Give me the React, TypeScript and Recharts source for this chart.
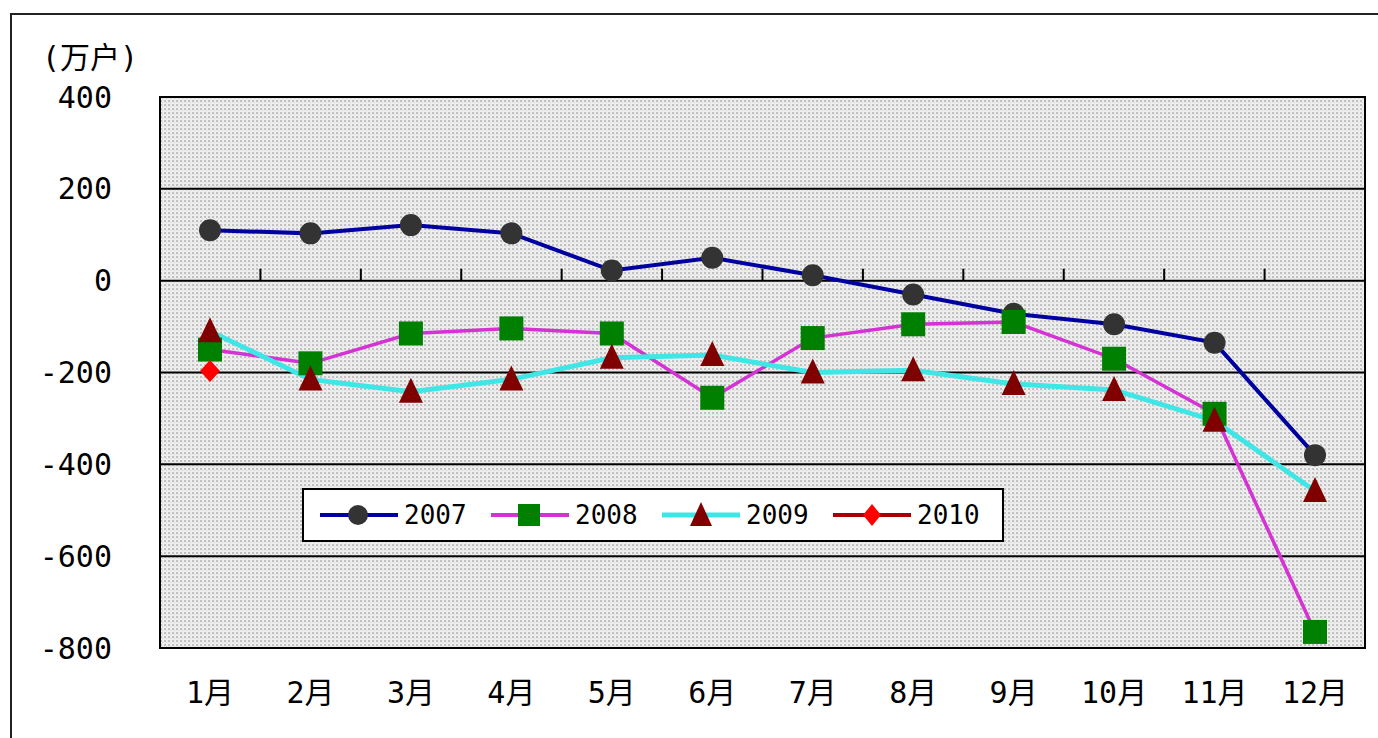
import {
  LineChart,
  Line,
  XAxis,
  YAxis,
  CartesianGrid,
  Legend,
  ReferenceLine,
  ReferenceArea,
} from "recharts";

const months = ["1月", "2月", "3月", "4月", "5月", "6月", "7月", "8月", "9月", "10月", "11月", "12月"];
const s2007 = [110, 103, 121, 103, 22, 50, 12, -30, -72, -95, -135, -380];
const s2008 = [-150, -180, -115, -104, -115, -255, -125, -95, -90, -170, -290, -765];
const s2009 = [-110, -215, -242, -215, -168, -162, -200, -195, -225, -238, -305, -458];
const s2010 = [-197, null, null, null, null, null, null, null, null, null, null, null];
const yTicks = [400, 200, 0, -200, -400, -600, -800];
// category boundaries, measured in month index units
const tickMarks = [0.5, 1.5, 2.5, 3.5, 4.5, 5.5, 6.5, 7.5, 8.5, 9.5, 10.5];

const data = months.map((m, i) => ({
  m,
  i,
  y2007: s2007[i],
  y2008: s2008[i],
  y2009: s2009[i],
  y2010: s2010[i],
}));

const FONT = '"DejaVu Sans Mono", "Noto Sans CJK SC", monospace';

const BLUE = "#0000a0";
const MAGENTA = "#d531d5";
const CYAN = "#3fe6e6";
const DARKRED = "#a80000";

function Circle(p: any) {
  if (p.value == null) return null;
  return <circle key={p.index} cx={p.cx} cy={p.cy} r={11} fill="#333" />;
}
function Square(p: any) {
  if (p.value == null) return null;
  return <rect key={p.index} x={p.cx - 12} y={p.cy - 12} width={24} height={24} fill="#008000" />;
}
function Tri(p: any) {
  if (p.value == null) return null;
  const { cx, cy } = p;
  return (
    <polygon
      key={p.index}
      points={`${cx},${cy - 14} ${cx - 12},${cy + 11} ${cx + 12},${cy + 11}`}
      fill="#800000"
    />
  );
}
function Diamond(p: any) {
  if (p.value == null) return null;
  const { cx, cy } = p;
  return (
    <polygon
      key={p.index}
      points={`${cx},${cy - 11} ${cx + 10},${cy} ${cx},${cy + 11} ${cx - 10},${cy}`}
      fill="#ff0000"
    />
  );
}

const legendItems = [
  { name: "2007", color: BLUE, w: 4, marker: "circle" },
  { name: "2008", color: MAGENTA, w: 4, marker: "square" },
  { name: "2009", color: CYAN, w: 5, marker: "tri" },
  { name: "2010", color: DARKRED, w: 4, marker: "diamond" },
];

function LegendBox() {
  return (
    <div
      style={{
        display: "flex",
        alignItems: "center",
        height: "100%",
        boxSizing: "border-box",
        paddingLeft: 14,
        fontFamily: FONT,
        fontSize: 26,
        color: "#000",
      }}
    >
      {legendItems.map((it) => (
        <div key={it.name} style={{ display: "flex", alignItems: "center", width: 175 }}>
          <svg width={82} height={30}>
            <line x1={2} y1={15} x2={80} y2={15} stroke={it.color} strokeWidth={it.w} />
            {it.marker === "circle" && <circle cx={40} cy={15} r={10} fill="#333" />}
            {it.marker === "square" && <rect x={29} y={4} width={22} height={22} fill="#008000" />}
            {it.marker === "tri" && <polygon points="41,2 30,26 52,26" fill="#800000" />}
            {it.marker === "diamond" && <polygon points="41,4 50,15 41,26 32,15" fill="#ff0000" />}
          </svg>
          <span style={{ marginLeft: 4 }}>{it.name}</span>
        </div>
      ))}
    </div>
  );
}

export default function App() {
  return (
    <div style={{ position: "absolute", left: 0, top: 0, width: 1378, height: 738, background: "#fff" }}>
      <div
        style={{
          position: "absolute",
          left: 10,
          top: 13,
          width: 1368,
          height: 725,
          borderLeft: "2px solid #222",
          borderTop: "2px solid #222",
          boxSizing: "border-box",
        }}
      />
      <div
        style={{
          position: "absolute",
          left: 42,
          top: 33,
          fontFamily: FONT,
          fontSize: 30,
          color: "#000",
        }}
      >
        (万户)
      </div>
      <div style={{ position: "absolute", left: 0, top: 0 }}>
        <LineChart
          width={1378}
          height={738}
          data={data}
          margin={{ top: 97, right: 13, left: 80, bottom: 30 }}
        >
          <defs>
            <pattern id="bg" width="4" height="4" patternUnits="userSpaceOnUse">
              <rect width="4" height="4" fill="#eeeeee" />
              <rect x="0" y="0" width="2" height="2" fill="#c0c0c0" />
              <rect x="2" y="2" width="1" height="1" fill="#d4d4d4" />
            </pattern>
          </defs>
          <CartesianGrid vertical={false} stroke="#000" strokeWidth={2} fill="url(#bg)" fillOpacity={1} />
          <XAxis
            dataKey="m"
            padding={{ left: 50, right: 50 }}
            axisLine={false}
            tickLine={false}
            tickSize={0}
            tickMargin={34}
            height={60}
            interval={0}
            tick={{ fill: "#000", fontSize: 30, fontFamily: FONT }}
          />
          <XAxis
            xAxisId="num"
            dataKey="i"
            type="number"
            domain={[-0.5, 11.5]}
            hide
            allowDataOverflow
          />
          <YAxis
            domain={[-800, 400]}
            ticks={yTicks}
            interval={0}
            width={80}
            axisLine={false}
            tickLine={false}
            tickSize={0}
            tickMargin={48}
            tick={{ fill: "#000", fontSize: 30, fontFamily: FONT }}
          />
          <ReferenceArea
            xAxisId="num"
            x1={-0.5}
            x2={11.5}
            y1={-800}
            y2={400}
            fill="none"
            stroke="#000"
            strokeWidth={2}
            fillOpacity={0}
            ifOverflow="extendDomain"
          />
          {tickMarks.map((k) => (
            <ReferenceLine
              key={k}
              xAxisId="num"
              segment={[
                { x: k, y: 0 },
                { x: k, y: 26 },
              ]}
              stroke="#000"
              strokeWidth={2}
            />
          ))}
          <Line
            dataKey="y2007"
            name="2007"
            stroke={BLUE}
            strokeWidth={4}
            dot={Circle}
            activeDot={false}
            isAnimationActive={false}
          />
          <Line
            dataKey="y2008"
            name="2008"
            stroke={MAGENTA}
            strokeWidth={3.5}
            dot={Square}
            activeDot={false}
            isAnimationActive={false}
          />
          <Line
            dataKey="y2009"
            name="2009"
            stroke={CYAN}
            strokeWidth={5}
            dot={Tri}
            activeDot={false}
            isAnimationActive={false}
          />
          <Line
            dataKey="y2010"
            name="2010"
            stroke={DARKRED}
            strokeWidth={4}
            dot={Diamond}
            activeDot={false}
            isAnimationActive={false}
          />
          <Legend
            layout="horizontal"
            verticalAlign="middle"
            align="center"
            content={<LegendBox />}
            wrapperStyle={{
              left: 302,
              top: 488,
              width: 702,
              height: 54,
              border: "2px solid #000",
              background: "#fff",
              boxSizing: "border-box",
            }}
          />
        </LineChart>
      </div>
    </div>
  );
}
